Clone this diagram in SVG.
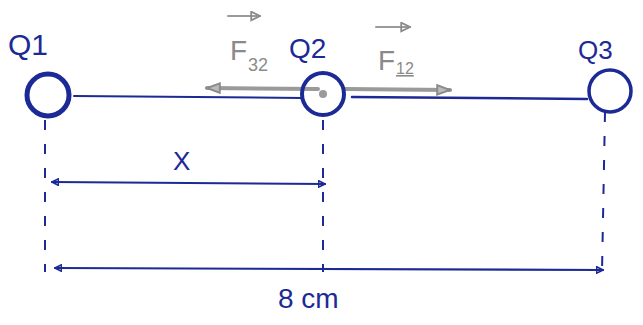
<svg xmlns="http://www.w3.org/2000/svg" width="643" height="325" viewBox="0 0 643 325">
<defs>
<style>
.ink{stroke:#1c2a96;fill:none;stroke-linecap:round}
.lbl{font-family:"Liberation Sans","DejaVu Sans",sans-serif;fill:#1c2a96}
.glbl{font-family:"Liberation Sans","DejaVu Sans",sans-serif;fill:#8a8a8a}
.gray{stroke:#9a9a9a;fill:none;stroke-linecap:round}
.dash{stroke:#1c2a96;stroke-width:2;stroke-dasharray:10 14;fill:none}
</style>
<marker id="ah" viewBox="0 0 10 10" refX="9" refY="5" markerWidth="8" markerHeight="8" orient="auto-start-reverse" markerUnits="userSpaceOnUse">
<path d="M1,1 L9,5 L1,9 Z" fill="none" stroke="#1c2a96" stroke-width="2"/>
</marker>
<marker id="gh" viewBox="0 0 10 10" refX="9" refY="5" markerWidth="16" markerHeight="16" orient="auto-start-reverse" markerUnits="userSpaceOnUse">
<path d="M1,2 L9,5 L1,8 Z" fill="#bbbbbb" stroke="#8a8a8a" stroke-width="1.2"/>
</marker>
<marker id="vh" viewBox="0 0 10 10" refX="9" refY="5" markerWidth="11" markerHeight="11" orient="auto" markerUnits="userSpaceOnUse">
<path d="M1,1 L9,5 L1,9 Z" fill="none" stroke="#8a8a8a" stroke-width="1.6"/>
</marker>
</defs>
<rect width="643" height="325" fill="#ffffff"/>
<g id="connectors">
<path class="ink" stroke-width="2" d="M74,96 L303,98"/>
<path class="ink" stroke-width="2.5" d="M352,97 L587,99"/>
<path class="gray" stroke-width="4" d="M318,89 L207,88" marker-end="url(#gh)"/>
<path class="gray" stroke-width="4" d="M345,89 L450,90" marker-end="url(#gh)"/>
<path class="dash" d="M45,120 L45,272"/>
<path class="dash" d="M323,120 L323,272"/>
<path class="dash" d="M605,112 L602,272"/>
<path class="ink" stroke-width="2.2" d="M52,182 L325,184" marker-start="url(#ah)" marker-end="url(#ah)"/>
<path class="ink" stroke-width="2.2" d="M55,268 L603,270" marker-start="url(#ah)" marker-end="url(#ah)"/>
</g>
<g id="Q1">
<circle cx="48" cy="95" r="21" class="ink" stroke-width="5"/>
<text class="lbl" x="8" y="55" font-size="30">Q1</text>
</g>
<g id="Q2">
<circle cx="323" cy="94" r="21" class="ink" stroke-width="4"/>
<circle cx="323" cy="94" r="4" fill="#9a9a9a"/>
<text class="lbl" x="289" y="58" font-size="28">Q2</text>
</g>
<g id="Q3">
<circle cx="610" cy="91" r="21" class="ink" stroke-width="3.5"/>
<text class="lbl" x="578" y="59" font-size="26">Q3</text>
</g>
<g id="F32">
<path class="gray" stroke-width="2" d="M228,16 L260,16" marker-end="url(#vh)"/>
<text class="glbl" x="230" y="60" font-size="28">F</text>
<text class="glbl" x="248" y="71" font-size="18">32</text>
</g>
<g id="F12">
<path class="gray" stroke-width="2" d="M376,27 L410,27" marker-end="url(#vh)"/>
<text class="glbl" x="378" y="70" font-size="28">F</text>
<text class="glbl" x="396" y="74" font-size="16" text-decoration="underline">12</text>
</g>
<text class="lbl" x="173" y="170" font-size="26">X</text>
<text class="lbl" x="278" y="308" font-size="28">8 cm</text>
</svg>
